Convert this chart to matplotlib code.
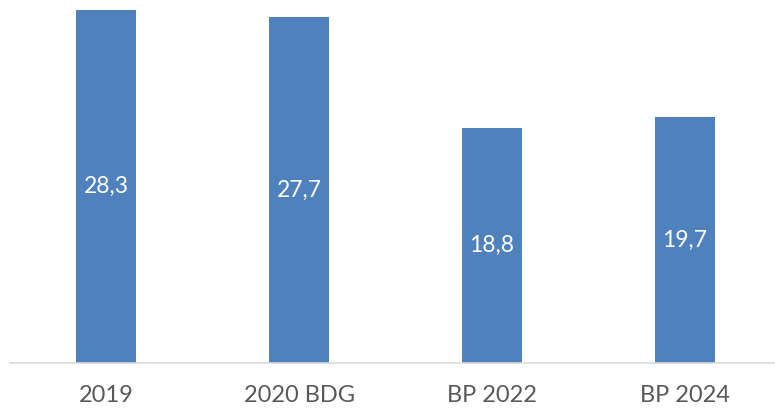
import matplotlib
matplotlib.use('Agg')
import matplotlib.pyplot as plt

categories = ['2019', '2020 BDG', 'BP 2022', 'BP 2024']
values = [28.3, 27.7, 18.8, 19.7]

BAR_COLOR = '#4F81BD'
plt.rcParams['font.family'] = ['Lato', 'DejaVu Sans']

fig = plt.figure(figsize=(7.75, 4.08), dpi=100)
ax = fig.add_axes([10/775, 1 - 363/408, 771/775, (363 - 10)/408])

x = range(len(categories))
bars = ax.bar(x, values, width=0.31, color=BAR_COLOR)

for bar, v in zip(bars, values):
    ax.text(bar.get_x() + bar.get_width()/2, v/2, f'{v:.1f}'.replace('.', ','),
            ha='center', va='center', color='white', fontsize=16.5)

ax.set_xlim(-0.5, len(categories) - 0.5)
ax.set_ylim(0, 28.3)
ax.set_xticks(list(x))
ax.set_xticklabels(categories, fontsize=17, color='#595959')
ax.tick_params(axis='x', length=0, pad=16)
ax.set_yticks([])
for s in ['top', 'right', 'left']:
    ax.spines[s].set_visible(False)
ax.spines['bottom'].set_color('#D9D9D9')
ax.spines['bottom'].set_linewidth(1.2)

fig.savefig('out.png', dpi=100)
